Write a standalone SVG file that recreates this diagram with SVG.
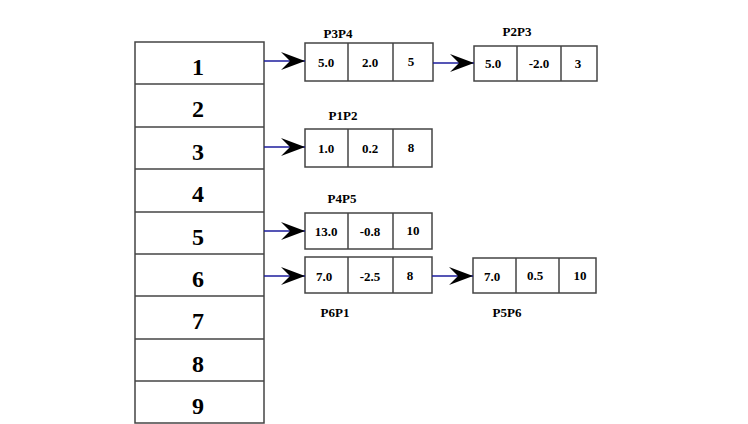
<svg xmlns="http://www.w3.org/2000/svg" width="748" height="424" viewBox="0 0 748 424">
<style>
.cell{fill:#fff;stroke:#444;stroke-width:1.5}
.div{stroke:#444;stroke-width:1.5}
.idx{font-family:"Liberation Serif",serif;font-weight:bold;font-size:24px;text-anchor:middle;fill:#000}
.v{font-family:"Liberation Serif",serif;font-weight:bold;font-size:13px;text-anchor:middle;fill:#000}
.lbl{font-family:"Liberation Serif",serif;font-weight:bold;font-size:13px;text-anchor:middle;fill:#000}
.link{stroke:#1c1c9c;stroke-width:1.4;fill:none;marker-end:url(#ah)}
</style>
<defs>
<marker id="ah" markerUnits="userSpaceOnUse" markerWidth="26" markerHeight="20" refX="24" refY="9" orient="auto">
<path d="M0,0 L24,9 L0,18 L9,9 Z" fill="#000"/>
</marker>
</defs>
<rect width="748" height="424" fill="#fff"/>
<g id="table">
<rect class="cell" x="135" y="42" width="129" height="381"/>
<line class="div" x1="135" y1="84" x2="264" y2="84"/>
<line class="div" x1="135" y1="127" x2="264" y2="127"/>
<line class="div" x1="135" y1="169" x2="264" y2="169"/>
<line class="div" x1="135" y1="212" x2="264" y2="212"/>
<line class="div" x1="135" y1="254" x2="264" y2="254"/>
<line class="div" x1="135" y1="296" x2="264" y2="296"/>
<line class="div" x1="135" y1="339" x2="264" y2="339"/>
<line class="div" x1="135" y1="381" x2="264" y2="381"/>
<text class="idx" x="198" y="75">1</text>
<text class="idx" x="198" y="117">2</text>
<text class="idx" x="198" y="160">3</text>
<text class="idx" x="198" y="202">4</text>
<text class="idx" x="198" y="245">5</text>
<text class="idx" x="198" y="287">6</text>
<text class="idx" x="198" y="329">7</text>
<text class="idx" x="198" y="372">8</text>
<text class="idx" x="198" y="414">9</text>
</g>
<g id="P3P4">
<text class="lbl" x="338" y="38">P3P4</text>
<rect class="cell" x="305" y="43" width="128" height="38"/>
<line class="div" x1="348" y1="43" x2="348" y2="81"/>
<line class="div" x1="393" y1="43" x2="393" y2="81"/>
<text class="v" x="326" y="67">5.0</text>
<text class="v" x="370" y="67">2.0</text>
<text class="v" x="411" y="66">5</text>
</g>
<g id="P2P3">
<text class="lbl" x="517" y="36">P2P3</text>
<rect class="cell" x="474" y="46" width="123" height="35"/>
<line class="div" x1="517" y1="46" x2="517" y2="81"/>
<line class="div" x1="561" y1="46" x2="561" y2="81"/>
<text class="v" x="493" y="68">5.0</text>
<text class="v" x="539" y="68">-2.0</text>
<text class="v" x="578" y="68">3</text>
</g>
<g id="P1P2">
<text class="lbl" x="343" y="120">P1P2</text>
<rect class="cell" x="305" y="129" width="127" height="38"/>
<line class="div" x1="348" y1="129" x2="348" y2="167"/>
<line class="div" x1="393" y1="129" x2="393" y2="167"/>
<text class="v" x="326" y="153">1.0</text>
<text class="v" x="370" y="153">0.2</text>
<text class="v" x="411" y="152">8</text>
</g>
<g id="P4P5">
<text class="lbl" x="342" y="203">P4P5</text>
<rect class="cell" x="305" y="213" width="127" height="36"/>
<line class="div" x1="348" y1="213" x2="348" y2="249"/>
<line class="div" x1="393" y1="213" x2="393" y2="249"/>
<text class="v" x="326" y="236">13.0</text>
<text class="v" x="370" y="236">-0.8</text>
<text class="v" x="413" y="235">10</text>
</g>
<g id="P6P1">
<rect class="cell" x="305" y="257" width="127" height="36"/>
<line class="div" x1="348" y1="257" x2="348" y2="293"/>
<line class="div" x1="393" y1="257" x2="393" y2="293"/>
<text class="v" x="324" y="281">7.0</text>
<text class="v" x="370" y="281">-2.5</text>
<text class="v" x="410" y="280">8</text>
<text class="lbl" x="335" y="317">P6P1</text>
</g>
<g id="P5P6">
<rect class="cell" x="473" y="258" width="123" height="35"/>
<line class="div" x1="516" y1="258" x2="516" y2="293"/>
<line class="div" x1="559" y1="258" x2="559" y2="293"/>
<text class="v" x="492" y="281">7.0</text>
<text class="v" x="535" y="280">0.5</text>
<text class="v" x="580" y="280">10</text>
<text class="lbl" x="507" y="317">P5P6</text>
</g>
<g id="connectors">
<line class="link" x1="264" y1="61" x2="305" y2="61"/>
<line class="link" x1="433" y1="63" x2="474" y2="63"/>
<line class="link" x1="264" y1="147" x2="305" y2="147"/>
<line class="link" x1="264" y1="231" x2="305" y2="231"/>
<line class="link" x1="264" y1="276" x2="305" y2="276"/>
<line class="link" x1="432" y1="276" x2="473" y2="276"/>
</g>
</svg>
